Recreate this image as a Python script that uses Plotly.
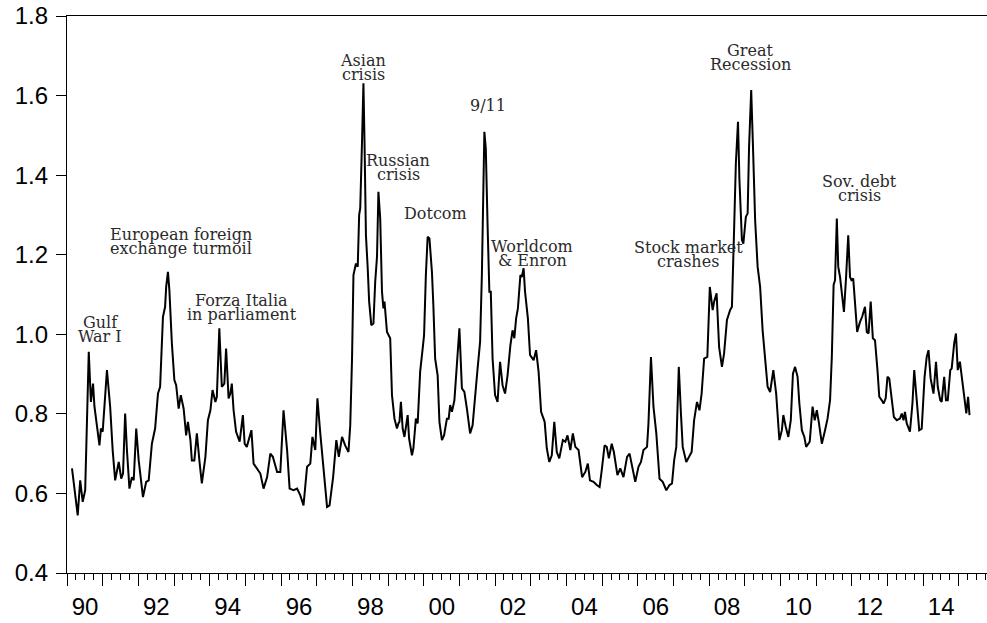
import plotly.graph_objects as go

# decimal year / index level
dates = [
    1990.14, 1990.30, 1990.37, 1990.44, 1990.51, 1990.61, 1990.67, 1990.73, 1990.77, 1990.86,
    1990.91, 1990.95, 1991.00, 1991.12, 1991.21, 1991.28, 1991.35, 1991.45, 1991.52, 1991.57,
    1991.63, 1991.68, 1991.75, 1991.82, 1991.87, 1991.94, 1992.01, 1992.13, 1992.22, 1992.29,
    1992.38, 1992.47, 1992.55, 1992.61, 1992.69, 1992.75, 1992.78, 1992.83, 1992.87, 1992.94,
    1993.01, 1993.06, 1993.13, 1993.19, 1993.27, 1993.34, 1993.39, 1993.46, 1993.50, 1993.57,
    1993.64, 1993.72, 1993.78, 1993.88, 1993.95, 1994.02, 1994.08, 1994.16, 1994.20, 1994.27,
    1994.34, 1994.41, 1994.46, 1994.53, 1994.58, 1994.62, 1994.67, 1994.74, 1994.84, 1994.93,
    1994.98, 1995.04, 1995.17, 1995.23, 1995.33, 1995.42, 1995.51, 1995.61, 1995.70, 1995.77,
    1995.89, 1995.98, 1996.07, 1996.17, 1996.24, 1996.35, 1996.45, 1996.54, 1996.63, 1996.73,
    1996.82, 1996.88, 1996.96, 1997.02, 1997.10, 1997.19, 1997.29, 1997.36, 1997.46, 1997.55,
    1997.62, 1997.71, 1997.80, 1997.89, 1997.94, 1997.99, 1998.03, 1998.10, 1998.15, 1998.19,
    1998.22, 1998.27, 1998.31, 1998.34, 1998.38, 1998.43, 1998.47, 1998.53, 1998.59, 1998.64,
    1998.69, 1998.73, 1998.78, 1998.83, 1998.87, 1998.90, 1998.97, 1999.06, 1999.11, 1999.18,
    1999.25, 1999.29, 1999.32, 1999.36, 1999.41, 1999.46, 1999.55, 1999.59, 1999.67, 1999.71,
    1999.78, 1999.83, 1999.90, 1999.97, 2000.01, 2000.06, 2000.11, 2000.16, 2000.23, 2000.27,
    2000.32, 2000.39, 2000.44, 2000.51, 2000.57, 2000.65, 2000.70, 2000.74, 2000.79, 2000.86,
    2000.91, 2001.00, 2001.07, 2001.14, 2001.21, 2001.30, 2001.37, 2001.44, 2001.51, 2001.58,
    2001.63, 2001.70, 2001.74, 2001.79, 2001.84, 2001.88, 2001.93, 2002.00, 2002.07, 2002.14,
    2002.21, 2002.28, 2002.35, 2002.43, 2002.49, 2002.54, 2002.59, 2002.64, 2002.71, 2002.75,
    2002.80, 2002.84, 2002.92, 2002.98, 2003.08, 2003.15, 2003.22, 2003.29, 2003.39, 2003.45,
    2003.52, 2003.59, 2003.66, 2003.73, 2003.80, 2003.90, 2003.97, 2004.03, 2004.11, 2004.18,
    2004.25, 2004.34, 2004.44, 2004.53, 2004.60, 2004.66, 2004.76, 2004.85, 2004.93, 2004.99,
    2005.07, 2005.13, 2005.19, 2005.27, 2005.33, 2005.43, 2005.51, 2005.60, 2005.70, 2005.77,
    2005.84, 2005.93, 2006.02, 2006.09, 2006.16, 2006.26, 2006.30, 2006.37, 2006.44, 2006.52,
    2006.61, 2006.70, 2006.80, 2006.89, 2006.96, 2007.02, 2007.08, 2007.15, 2007.21, 2007.26,
    2007.36, 2007.45, 2007.51, 2007.58, 2007.66, 2007.73, 2007.79, 2007.86, 2007.95, 2008.02,
    2008.10, 2008.14, 2008.21, 2008.28, 2008.36, 2008.42, 2008.50, 2008.59, 2008.64, 2008.70,
    2008.75, 2008.81, 2008.85, 2008.92, 2008.96, 2009.03, 2009.08, 2009.12, 2009.18, 2009.23,
    2009.29, 2009.36, 2009.43, 2009.50, 2009.57, 2009.64, 2009.71, 2009.80, 2009.88, 2009.92,
    2009.97, 2010.04, 2010.08, 2010.15, 2010.22, 2010.29, 2010.35, 2010.41, 2010.48, 2010.53,
    2010.60, 2010.67, 2010.72, 2010.82, 2010.90, 2010.96, 2011.02, 2011.08, 2011.16, 2011.25,
    2011.32, 2011.39, 2011.44, 2011.49, 2011.53, 2011.58, 2011.62, 2011.67, 2011.73, 2011.78,
    2011.84, 2011.90, 2011.95, 2011.99, 2012.04, 2012.09, 2012.15, 2012.23, 2012.29, 2012.37,
    2012.42, 2012.47, 2012.53, 2012.59, 2012.65, 2012.72, 2012.77, 2012.84, 2012.89, 2012.95,
    2013.00, 2013.05, 2013.12, 2013.18, 2013.26, 2013.35, 2013.40, 2013.45, 2013.49, 2013.54,
    2013.63, 2013.70, 2013.75, 2013.82, 2013.89, 2013.96, 2014.04, 2014.10, 2014.15, 2014.21,
    2014.29, 2014.36, 2014.41, 2014.48, 2014.52, 2014.59, 2014.64, 2014.69, 2014.76, 2014.80,
    2014.87, 2014.92, 2014.97, 2015.03, 2015.08, 2015.15, 2015.21, 2015.26, 2015.30,
]
values = [
    0.663, 0.545, 0.633, 0.579, 0.608, 0.956, 0.830, 0.876, 0.818, 0.751,
    0.721, 0.763, 0.755, 0.910, 0.818, 0.709, 0.633, 0.679, 0.637, 0.650,
    0.801, 0.709, 0.612, 0.641, 0.633, 0.763, 0.683, 0.591, 0.629, 0.633,
    0.725, 0.763, 0.851, 0.868, 1.044, 1.069, 1.119, 1.157, 1.111, 0.977,
    0.885, 0.872, 0.813, 0.847, 0.813, 0.746, 0.780, 0.734, 0.683, 0.683,
    0.751, 0.675, 0.625, 0.692, 0.784, 0.809, 0.860, 0.830, 0.843, 1.015,
    0.868, 0.876, 0.964, 0.839, 0.851, 0.876, 0.809, 0.755, 0.730, 0.797,
    0.725, 0.717, 0.759, 0.675, 0.663, 0.650, 0.612, 0.641, 0.700, 0.692,
    0.654, 0.654, 0.809, 0.709, 0.612, 0.608, 0.612, 0.595, 0.570, 0.667,
    0.675, 0.742, 0.709, 0.839, 0.751, 0.658, 0.566, 0.570, 0.641, 0.734,
    0.692, 0.742, 0.720, 0.704, 0.771, 0.939, 1.149, 1.178, 1.170, 1.300,
    1.317, 1.484, 1.631, 1.484, 1.249, 1.166, 1.082, 1.023, 1.027, 1.132,
    1.195, 1.358, 1.291, 1.107, 1.065, 1.082, 1.006, 0.990, 0.847, 0.788,
    0.763, 0.776, 0.780, 0.830, 0.763, 0.742, 0.797, 0.738, 0.696, 0.713,
    0.788, 0.776, 0.906, 0.964, 0.998, 1.149, 1.245, 1.241, 1.157, 1.073,
    0.939, 0.897, 0.780, 0.734, 0.746, 0.788, 0.788, 0.822, 0.805, 0.834,
    0.897, 1.015, 0.864, 0.855, 0.813, 0.751, 0.771, 0.855, 0.914, 0.981,
    1.149, 1.509, 1.467, 1.274, 1.107, 1.107, 0.939, 0.847, 0.830, 0.931,
    0.872, 0.851, 0.897, 0.973, 1.010, 0.990, 1.040, 1.065, 1.149, 1.144,
    1.166, 1.107, 1.040, 0.948, 0.935, 0.960, 0.906, 0.805, 0.780, 0.713,
    0.679, 0.696, 0.780, 0.704, 0.688, 0.734, 0.730, 0.746, 0.709, 0.751,
    0.717, 0.709, 0.641, 0.654, 0.675, 0.633, 0.629, 0.621, 0.616, 0.658,
    0.721, 0.717, 0.688, 0.725, 0.704, 0.646, 0.663, 0.641, 0.692, 0.700,
    0.667, 0.629, 0.667, 0.679, 0.709, 0.717, 0.776, 0.943, 0.818, 0.751,
    0.637, 0.629, 0.608, 0.621, 0.625, 0.683, 0.717, 0.918, 0.801, 0.717,
    0.679, 0.696, 0.704, 0.784, 0.830, 0.809, 0.851, 0.939, 0.943, 1.119,
    1.061, 1.082, 1.103, 0.968, 0.918, 0.952, 1.036, 1.061, 1.069, 1.262,
    1.430, 1.534, 1.388, 1.237, 1.228, 1.295, 1.304, 1.471, 1.614, 1.471,
    1.287, 1.170, 1.119, 1.010, 0.927, 0.868, 0.855, 0.910, 0.851, 0.784,
    0.734, 0.759, 0.797, 0.767, 0.742, 0.784, 0.901, 0.918, 0.893, 0.826,
    0.759, 0.742, 0.717, 0.730, 0.818, 0.784, 0.809, 0.776, 0.725, 0.759,
    0.788, 0.834, 0.943, 1.124, 1.136, 1.291, 1.170, 1.144, 1.086, 1.056,
    1.144, 1.249, 1.144, 1.136, 1.140, 1.078, 1.006, 1.031, 1.044, 1.069,
    1.006, 1.002, 1.082, 0.990, 0.985, 0.910, 0.843, 0.834, 0.826, 0.839,
    0.893, 0.889, 0.834, 0.792, 0.784, 0.788, 0.801, 0.784, 0.805, 0.776,
    0.755, 0.826, 0.910, 0.826, 0.759, 0.763, 0.893, 0.943, 0.960, 0.889,
    0.851, 0.931, 0.868, 0.834, 0.830, 0.893, 0.834, 0.834, 0.910, 0.914,
    0.977, 1.002, 0.910, 0.931, 0.893, 0.834, 0.801, 0.843, 0.797,
]

# event labels (one entry per text line) and where they sit
event_lines = [
    ["Gulf", "War I"],
    ["European foreign", "exchange turmoil"],
    ["Forza Italia", "in parliament"],
    ["Asian", "crisis"],
    ["Russian", "crisis"],
    ["Dotcom"],
    ["9/11"],
    ["Worldcom", "& Enron"],
    ["Stock market", "crashes"],
    ["Great", "Recession"],
    ["Sov. debt", "crisis"],
]
event_x = [1990.93, 1993.20, 1994.90, 1998.30, 1999.29, 2000.34, 2001.80, 2003.04, 2007.42, 2009.15, 2012.21]
event_y = [1.011, 1.232, 1.068, 1.671, 1.420, 1.304, 1.576, 1.202, 1.200, 1.695, 1.366]

year_ticks = list(range(1990, 2016))
year_labels = [f"{y % 100:02d}" if y % 2 == 0 else "" for y in year_ticks]
y_ticks = [0.4, 0.6, 0.8, 1.0, 1.2, 1.4, 1.6, 1.8]

fig = go.Figure()
fig.add_trace(go.Scatter(x=dates, y=values, mode="lines",
                         line=dict(color="black", width=2), showlegend=False))

# every line of a label is its own annotation so the line spacing can stay tight
for lines, ex, ey in zip(event_lines, event_x, event_y):
    n = len(lines)
    for i, txt in enumerate(lines):
        fig.add_annotation(x=ex, y=ey, text=txt, showarrow=False,
                           xanchor="center", yanchor="middle",
                           yshift=(n - 1) * 7 - i * 14,
                           font=dict(family="DejaVu Serif", size=16, color="#2a2a2a"))

fig.update_layout(
    width=987, height=623,
    margin=dict(l=67, r=0, t=16, b=50),
    paper_bgcolor="white", plot_bgcolor="white",
    font=dict(family="Liberation Sans, Arial, sans-serif", size=24, color="black"),
)
fig.update_xaxes(
    range=[1990, 2015.79], showgrid=False, zeroline=False, automargin=False,
    showline=True, linecolor="black", linewidth=1.3, mirror=True,
    tickmode="array", tickvals=year_ticks, ticktext=year_labels,
    ticks="outside", ticklen=12, tickwidth=1.2, tickcolor="black",
    ticklabelshift=18,
    minor=dict(tickmode="linear", tick0=1990, dtick=0.25, ticks="outside",
               ticklen=6, tickwidth=1, tickcolor="black"),
)
fig.update_yaxes(
    range=[0.4, 1.8], showgrid=False, zeroline=False, automargin=False,
    showline=True, linecolor="black", linewidth=1.3,
    tickmode="array", tickvals=y_ticks, ticktext=[f"{v:.1f}" for v in y_ticks],
    ticks="outside", ticklen=10, tickwidth=1.2, tickcolor="black",
    ticklabelstandoff=3,
)

# the page's default body margin would push the figure off the window
fig.write_html("out.html", config={"displayModeBar": False},
               post_script="document.body.style.margin = '0';")
